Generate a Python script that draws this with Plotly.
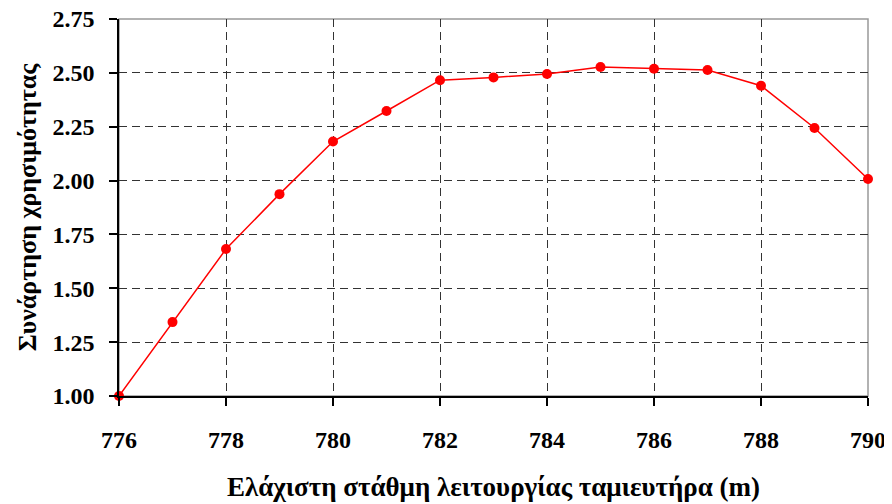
import plotly.graph_objects as go

# minimum operating level (m) and utility function values
level_m = [776, 777, 778, 779, 780, 781, 782, 783, 784, 785, 786, 787, 788, 789, 790]
utility = [1.00, 1.343, 1.682, 1.937, 2.181, 2.323, 2.466, 2.479, 2.495, 2.527, 2.519, 2.513, 2.44, 2.244, 2.007]

x_ticks = [776, 778, 780, 782, 784, 786, 788, 790]
y_ticks = [1.00, 1.25, 1.50, 1.75, 2.00, 2.25, 2.50, 2.75]

serif = "Liberation Serif, Times New Roman, serif"

fig = go.Figure()
fig.add_trace(go.Scatter(
    x=level_m,
    y=utility,
    mode="lines+markers",
    line=dict(color="#ff0000", width=1.5),
    marker=dict(color="#ff0000", size=10),
    cliponaxis=False,
    showlegend=False
))

# grey frame on top/right, like the original
fig.add_shape(type="rect", xref="paper", yref="paper", x0=0, y0=0, x1=1, y1=1,
              line=dict(color="#999999", width=1.5), layer="below")

# page body has an 8px margin, so the figure is 8px smaller each way
fig.update_layout(
    width=884, height=496,
    margin=dict(l=111, r=24, t=11, b=108),
    plot_bgcolor="white",
    paper_bgcolor="white",
    font=dict(family=serif, color="black", size=24),
    xaxis=dict(
        range=[776, 790],
        tickvals=x_ticks,
        ticktext=[str(v) for v in x_ticks],
        ticks="outside", ticklen=8, tickcolor="black", tickwidth=1.5,
        ticklabelstandoff=13, ticklabeloverflow="allow",
        showline=True, linecolor="black", linewidth=1.5,
        showgrid=True, gridcolor="#333333", gridwidth=1, griddash="8px,5px",
        zeroline=False, automargin=False,
        tickfont=dict(family=serif, size=24, color="black", weight="bold"),
        title=dict(text="<b>Ελάχιστη στάθμη λειτουργίας ταμιευτήρα (m)</b>",
                   font=dict(family=serif, size=27), standoff=26),
    ),
    yaxis=dict(
        range=[1.0, 2.75],
        tickvals=y_ticks,
        ticktext=["%.2f" % v for v in y_ticks],
        ticks="outside", ticklen=8, tickcolor="black", tickwidth=1.5,
        ticklabelstandoff=10, ticklabeloverflow="allow",
        showline=True, linecolor="black", linewidth=1.5,
        showgrid=True, gridcolor="#333333", gridwidth=1, griddash="8px,5px",
        zeroline=False, automargin=False,
        tickfont=dict(family=serif, size=24, color="black", weight="bold"),
        title=dict(text="<b>Συνάρτηση χρησιμότητας</b>",
                   font=dict(family=serif, size=26), standoff=8),
    ),
)

fig.write_html("out.html")
